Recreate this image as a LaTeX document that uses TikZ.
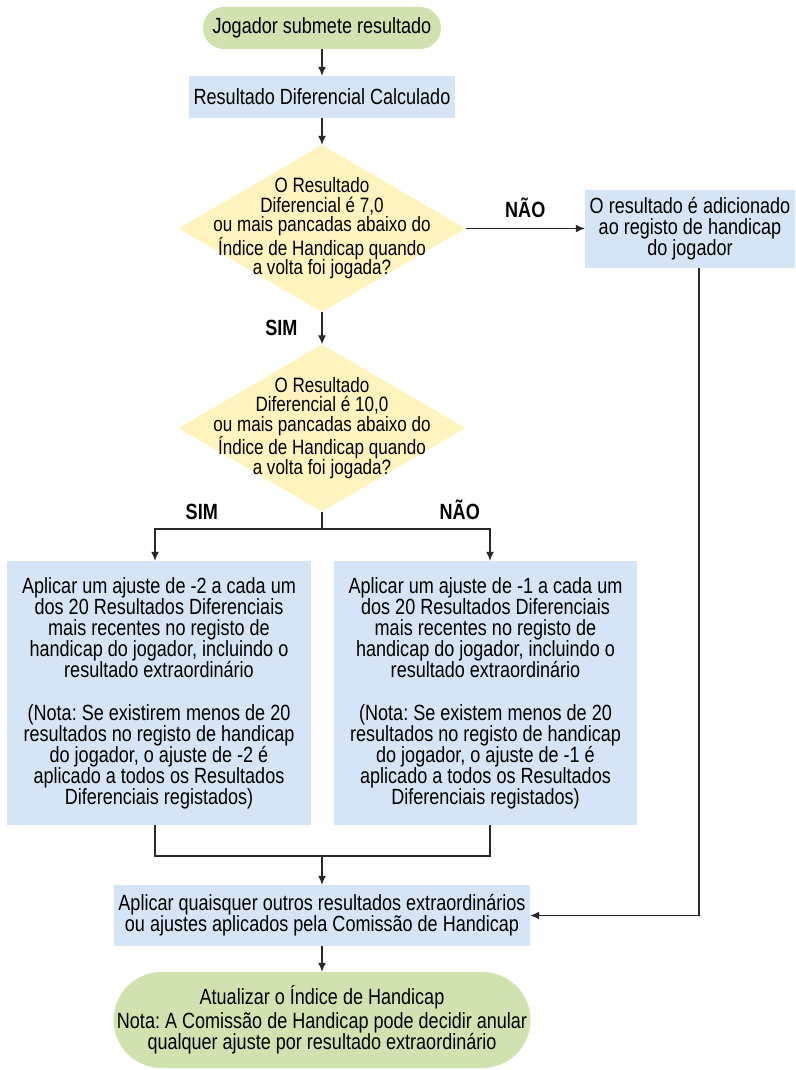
\documentclass[tikz,border=0pt]{standalone}
\usepackage{fontspec}
\setmainfont{Liberation Sans}[FakeStretch=0.82]
\usepackage{xcolor}
\usetikzlibrary{shapes.geometric,arrows.meta}
\definecolor{pillgreen}{RGB}{207,226,176}
\definecolor{boxblue}{RGB}{213,229,245}
\definecolor{askyellow}{RGB}{255,244,190}
\definecolor{linegrey}{RGB}{40,40,40}
\frenchspacing

\begin{document}
\begin{tikzpicture}[x=1pt,y=-1pt,
    every node/.style={font=\fontsize{22}{21}\selectfont, text=black, align=center, inner sep=0pt},
    pill/.style={rectangle, fill=pillgreen},
    stepbox/.style={rectangle, fill=boxblue},
    ask/.style={diamond, fill=askyellow, minimum width=287pt, minimum height=167pt},
    asktext/.style={font=\fontsize{20.8}{19.5}\selectfont, align=center},
    answer/.style={font=\bfseries\fontsize{22}{22}\selectfont},
    link/.style={draw=linegrey, line width=1.2pt},
    flow/.style={link, -{Latex[length=9pt,width=8pt]}}
  ]
  \useasboundingbox (0,0) rectangle (795,1070);

  \node[pill, minimum width=238pt, minimum height=42pt, rounded corners=21pt] (start) at (322,28) {Jogador submete resultado};
  \node[stepbox, minimum width=266pt, minimum height=42pt] (calc) at (322,97) {Resultado Diferencial Calculado};
  \node[ask, label={[asktext]center:O Resultado\\Diferencial é 7,0\\ou mais pancadas abaixo do\\Índice de Handicap quando\\a volta foi jogada?}] (seven) at (322,228.5) {};
  \node[stepbox, minimum width=210pt, minimum height=78pt] (record) at (690,228.5) {O resultado é adicionado\\ao registo de handicap\\do jogador};
  \node[ask, label={[asktext]center:O Resultado\\Diferencial é 10,0\\ou mais pancadas abaixo do\\Índice de Handicap quando\\a volta foi jogada?}] (ten) at (322,428) {};
  \node[stepbox, minimum width=304pt, minimum height=264pt] (minustwo) at (159,693) {Aplicar um ajuste de -2 a cada um\\dos 20 Resultados Diferenciais\\mais recentes no registo de\\handicap do jogador, incluindo o\\resultado extraordinário\\[22pt](Nota: Se existirem menos de 20\\resultados no registo de handicap\\do jogador, o ajuste de -2 é\\aplicado a todos os Resultados\\Diferenciais registados)};
  \node[stepbox, minimum width=303pt, minimum height=264pt] (minusone) at (485.5,693) {Aplicar um ajuste de -1 a cada um\\dos 20 Resultados Diferenciais\\mais recentes no registo de\\handicap do jogador, incluindo o\\resultado extraordinário\\[22pt](Nota: Se existem menos de 20\\resultados no registo de handicap\\do jogador, o ajuste de -1 é\\aplicado a todos os Resultados\\Diferenciais registados)};
  \node[stepbox, minimum width=416pt, minimum height=61pt] (others) at (322,915.5) {Aplicar quaisquer outros resultados extraordinários\\ou ajustes aplicados pela Comissão de Handicap};
  \node[pill, minimum width=417pt, minimum height=96pt, rounded corners=48pt] (update) at (322,1020) {Atualizar o Índice de Handicap\\[3pt]Nota: A Comissão de Handicap pode decidir anular\\qualquer ajuste por resultado extraordinário};

  \coordinate (split) at (322,529);
  \coordinate (join) at (322,856);

  \draw[flow] (start) -- (calc);
  \draw[flow] (calc) -- (seven);
  \draw[flow] (seven.east) -- node[answer, above=10pt] {NÃO} (record.west);
  \draw[flow] (seven.south) -- node[answer, left=24pt] {SIM} (ten.north);
  \draw[link] (ten.south) -- (split);
  \draw[flow] (split) -| node[answer, pos=0.36, above=9pt] {SIM} ([xshift=-4pt]minustwo.north);
  \draw[flow] (split) -| node[answer, pos=0.41, above=9pt] {NÃO} ([xshift=4.5pt]minusone.north);
  \draw[link] ([xshift=-4pt]minustwo.south) |- (join) -| ([xshift=4.5pt]minusone.south);
  \draw[flow] (join) -- (others);
  \draw[flow] ([xshift=9pt]record.south) |- (others.east);
  \draw[flow] (others) -- (update);
\end{tikzpicture}
\end{document}
